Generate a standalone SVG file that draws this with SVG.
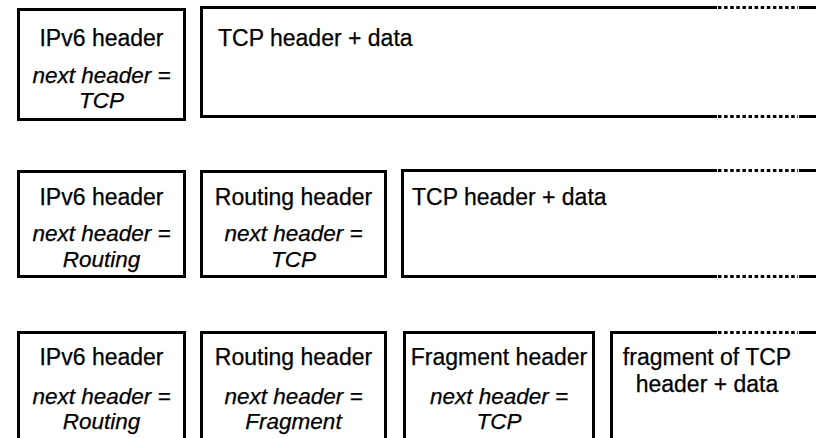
<svg xmlns="http://www.w3.org/2000/svg" width="816" height="438" viewBox="0 0 816 438">
<style>
.box{fill:none;stroke:#000;stroke-width:3}
.ln{fill:none;stroke:#000;stroke-width:3}
.dot{fill:none;stroke:#000;stroke-width:3;stroke-dasharray:3.5 2.6}
text{font-family:"Liberation Sans",Arial,sans-serif;font-size:23px;fill:#000;stroke:#000;stroke-width:0.25}
.c{text-anchor:middle}
.i{font-style:italic;font-size:22.5px}
</style>
<rect width="816" height="438" fill="#fff"/>
<g id="row1-ipv6">
<rect class="box" x="18.5" y="9.5" width="166" height="110"/>
<text class="c" x="101.5" y="46">IPv6 header</text>
<text class="c i" x="101.5" y="83">next header =</text>
<text class="c i" x="101.5" y="108">TCP</text>
</g>
<g id="row1-tcp">
<path class="ln" d="M717 7.5H201.5V116.5H717"/>
<path class="dot" d="M718 7.5H798"/>
<path class="dot" d="M718 116.5H798"/>
<path class="ln" d="M799 7.5H816M799 116.5H816"/>
<text x="218" y="46">TCP header + data</text>
</g>
<g id="row2-ipv6">
<rect class="box" x="18.5" y="171.5" width="166" height="105"/>
<text class="c" x="101.5" y="205">IPv6 header</text>
<text class="c i" x="101.5" y="241">next header =</text>
<text class="c i" x="101.5" y="267">Routing</text>
</g>
<g id="row2-routing">
<rect class="box" x="201.5" y="171.5" width="184" height="105"/>
<text class="c" x="293.5" y="205">Routing header</text>
<text class="c i" x="293.5" y="241">next header =</text>
<text class="c i" x="293.5" y="267">TCP</text>
</g>
<g id="row2-tcp">
<path class="ln" d="M717 170.5H402.5V276.5H717"/>
<path class="dot" d="M718 170.5H798"/>
<path class="dot" d="M718 276.5H798"/>
<path class="ln" d="M799 170.5H816M799 276.5H816"/>
<text x="412" y="205">TCP header + data</text>
</g>
<g id="row3-ipv6">
<rect class="box" x="18.5" y="332.5" width="166" height="120"/>
<text class="c" x="101.5" y="365">IPv6 header</text>
<text class="c i" x="101.5" y="404">next header =</text>
<text class="c i" x="101.5" y="429">Routing</text>
</g>
<g id="row3-routing">
<rect class="box" x="201.5" y="332.5" width="184" height="120"/>
<text class="c" x="293.5" y="365">Routing header</text>
<text class="c i" x="293.5" y="404">next header =</text>
<text class="c i" x="293.5" y="429">Fragment</text>
</g>
<g id="row3-fragment">
<rect class="box" x="404.5" y="332.5" width="189" height="120"/>
<text class="c" x="499" y="365">Fragment header</text>
<text class="c i" x="499" y="404">next header =</text>
<text class="c i" x="499" y="429">TCP</text>
</g>
<g id="row3-data">
<path class="ln" d="M717 332.5H611.5V450"/>
<path class="dot" d="M718 332.5H798"/>
<path class="ln" d="M799 332.5H816"/>
<text class="c" x="707" y="365">fragment of TCP</text>
<text class="c" x="707" y="392">header + data</text>
</g>
<g id="connectors"/>
</svg>
